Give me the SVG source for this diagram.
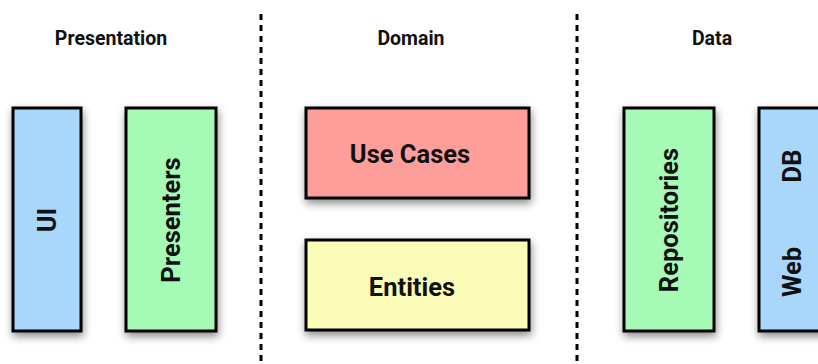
<svg xmlns="http://www.w3.org/2000/svg" width="818" height="364" viewBox="0 0 818 364">
<style>
.title{font-family:Roboto,"Liberation Sans",sans-serif;font-weight:bold;font-size:19.5px;fill:#111;text-anchor:middle}
.lbl{font-family:Roboto,"Liberation Sans",sans-serif;font-weight:bold;font-size:25.5px;fill:#111;text-anchor:middle;dominant-baseline:central}
.box{stroke:#000;stroke-width:3;filter:url(#sh)}
.sep{stroke:#000;stroke-width:3;stroke-dasharray:6 5;fill:none}
.blue{fill:#a9d6fb}.green{fill:#a5fbb6}.red{fill:#fe9e9a}.yellow{fill:#fcfcb9}
</style>
<defs>
<filter id="sh" x="-30%" y="-30%" width="160%" height="160%">
<feDropShadow dx="1" dy="4" stdDeviation="4" flood-color="#000" flood-opacity="0.45"/>
</filter>
</defs>
<g id="separators">
<line class="sep" x1="261" y1="14" x2="261" y2="364"/>
<line class="sep" x1="577" y1="14" x2="577" y2="364"/>
</g>
<g id="titles">
<text class="title" x="111" y="45">Presentation</text>
<text class="title" x="411" y="45">Domain</text>
<text class="title" x="712" y="45">Data</text>
</g>
<g id="ui">
<rect class="box blue" x="13" y="108" width="68" height="223"/>
<text class="lbl" transform="translate(47 220) rotate(-90)">UI</text>
</g>
<g id="presenters">
<rect class="box green" x="126" y="108" width="90" height="223"/>
<text class="lbl" transform="translate(171 220) rotate(-90)">Presenters</text>
</g>
<g id="usecases">
<rect class="box red" x="306" y="108" width="223" height="90"/>
<text class="lbl" x="410" y="154">Use Cases</text>
</g>
<g id="entities">
<rect class="box yellow" x="306" y="240" width="223" height="90"/>
<text class="lbl" x="412" y="287">Entities</text>
</g>
<g id="repositories">
<rect class="box green" x="624" y="108" width="90" height="223"/>
<text class="lbl" transform="translate(669 220) rotate(-90)">Repositories</text>
</g>
<g id="dbweb">
<rect class="box blue" x="759" y="108" width="90" height="223"/>
<text class="lbl" transform="translate(792 166) rotate(-90)">DB</text>
<text class="lbl" transform="translate(792 272) rotate(-90)">Web</text>
</g>
</svg>
